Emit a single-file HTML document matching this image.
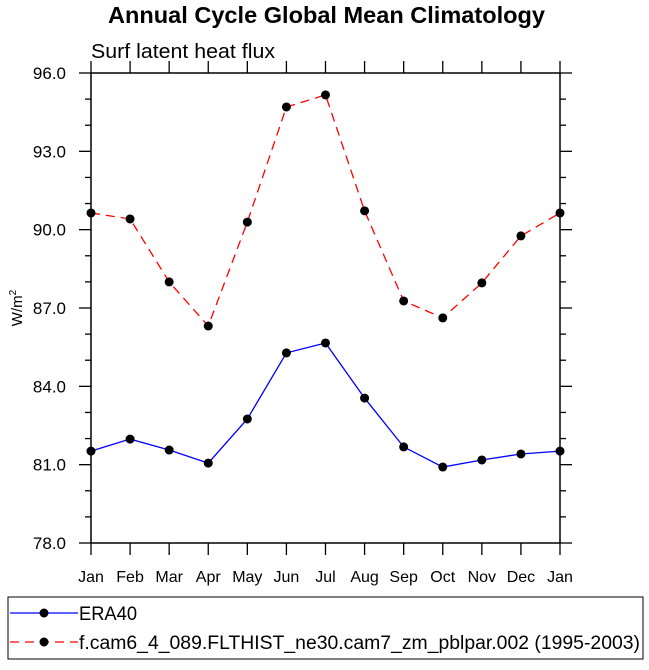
<!DOCTYPE html>
<html><head><meta charset="utf-8"><style>
body{margin:0;background:#fff;}
svg text{font-family:"Liberation Sans",Arial,sans-serif;}
</style></head><body>
<svg id="chart" width="649" height="665" xmlns="http://www.w3.org/2000/svg">
<text x="108" y="23" font-size="23" font-weight="bold" textLength="437" lengthAdjust="spacingAndGlyphs">Annual Cycle Global Mean Climatology</text>
<text x="91" y="58" font-size="20" textLength="184" lengthAdjust="spacingAndGlyphs">Surf latent heat flux</text>
<text transform="translate(22,308) rotate(-90)" text-anchor="middle" font-size="15">W/m<tspan font-size="10" dy="-6">2</tspan></text>
<g id="axes"></g>
<g id="series"></g>
<rect x="8" y="597" width="635" height="62" fill="none" stroke="#000" stroke-width="1"/>
<g>
<line x1="10" y1="613" x2="78" y2="613" stroke="#0000ff" stroke-width="1.3"/>
<circle cx="44" cy="613" r="4.5" fill="#000"/>
<text x="79" y="620" font-size="19" textLength="58" lengthAdjust="spacingAndGlyphs">ERA40</text>
</g>
<g>
<line x1="10" y1="642" x2="78" y2="642" stroke="#ff0000" stroke-width="1.3" stroke-dasharray="9,6"/>
<circle cx="44" cy="642" r="4.5" fill="#000"/>
<text x="79" y="649" font-size="19" textLength="561" lengthAdjust="spacingAndGlyphs">f.cam6_4_089.FLTHIST_ne30.cam7_zm_pblpar.002 (1995-2003)</text>
</g>
</svg>
<script>
const months=["Jan","Feb","Mar","Apr","May","Jun","Jul","Aug","Sep","Oct","Nov","Dec","Jan"];
const era40=[81.52,81.98,81.56,81.06,82.75,85.28,85.66,83.55,81.68,80.91,81.18,81.41,81.52];
const model=[90.64,90.41,88.0,86.31,90.29,94.7,95.16,90.72,87.27,86.62,87.96,89.76,90.64];
const yTicks=["78.0","81.0","84.0","87.0","90.0","93.0","96.0"];
const L=91,R=560,T=73,B=543,yMin=78,yMax=96;
const NS="http://www.w3.org/2000/svg";
function xS(i){return L+(R-L)*i/(months.length-1);}
function yS(v){return B-(v-yMin)/(yMax-yMin)*(B-T);}
function mk(tag,attrs,parent){const e=document.createElementNS(NS,tag);for(const k in attrs)e.setAttribute(k,attrs[k]);parent.appendChild(e);return e;}
const ax=document.getElementById("axes");
const frame=mk("rect",{x:L,y:T,width:R-L,height:B-T,fill:"none",stroke:"#000","stroke-width":1.5},ax);


months.forEach((m,i)=>{
  const x=xS(i);
  mk("line",{x1:x,y1:B,x2:x,y2:B+12,stroke:"#000","stroke-width":1.3},ax);
  mk("line",{x1:x,y1:T,x2:x,y2:T-12,stroke:"#000","stroke-width":1.3},ax);
  const t=mk("text",{x:x,y:B+39,"text-anchor":"middle","font-size":16},ax);
  t.textContent=m;
  
  
});
for(let v=yMin;v<=yMax;v+=1){
  const y=yS(v);const major=((v-yMin)%3===0);const len=major?12:6;
  mk("line",{x1:L,y1:y,x2:L-len,y2:y,stroke:"#000","stroke-width":1.3},ax);
  mk("line",{x1:R,y1:y,x2:R+len,y2:y,stroke:"#000","stroke-width":1.3},ax);
}
yTicks.forEach(s=>{
  const t=mk("text",{x:L-25,y:yS(parseFloat(s))+6,"text-anchor":"end","font-size":17},ax);
  t.textContent=s;
  
  
});
const sg=document.getElementById("series");
function draw(arr,color,dash,name){
  const g=mk("g",{},sg);
  
  
  const pts=arr.map((v,i)=>xS(i)+","+yS(v)).join(" ");
  const attrs={points:pts,fill:"none",stroke:color,"stroke-width":1.3};
  if(dash)attrs["stroke-dasharray"]=dash;
  mk("polyline",attrs,g);
  arr.forEach((v,i)=>{
    const c=mk("circle",{cx:xS(i),cy:yS(v),r:4.5,fill:"#000"},g);
    
    
  });
}
draw(model,"#ff0000","9,6","model-series");
draw(era40,"#0000ff",null,"era40-series");
</script>
</body></html>
